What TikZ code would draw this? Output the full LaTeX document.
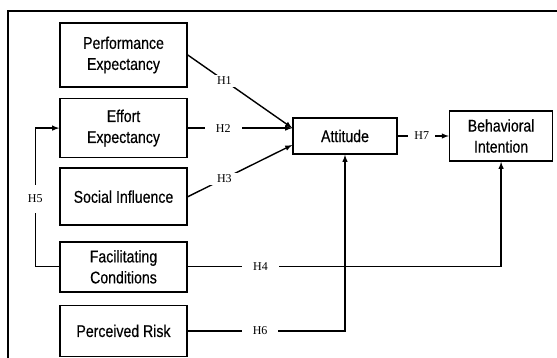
\documentclass[tikz,border=0pt]{standalone}
\usepackage{fontspec}
\setmainfont{Liberation Serif}
\setsansfont[FakeStretch=0.83, FakeBold=0.4]{Liberation Sans}
\usetikzlibrary{positioning,arrows}
\tikzset{
 box/.style
  = {rectangle, draw, line width=1.6pt, align=center, inner sep=2pt,
     minimum width=127pt, font=\sffamily\fontsize{17}{21}\selectfont},
 lab/.style
  = {fill=white, inner xsep=11pt, inner ysep=2pt,
     font=\rmfamily\fontsize{12}{14}\selectfont},
 labv/.style
  = {lab, inner xsep=1pt, inner ysep=10pt},
 l/.style
  = {draw, -latex, line width=1.4pt}
}
\begin{document}
\begin{tikzpicture}[x=1pt, y=-1pt]
    \useasboundingbox (0,0) rectangle (557,358);
    \draw [line width=1.2pt] (8,11) rectangle (620,420);

    \node [box, minimum height=64pt] (pe) at (123.5,55) {Performance\\ Expectancy};
    \node [box, minimum height=59pt, below = 10pt of pe] (ee) {Effort\\ Expectancy};
    \node [box, minimum height=57pt, below = 9pt of ee] (si) {Social Influence};
    \node [box, minimum height=50pt, below = 15pt of si] (fc) {Facilitating\\ Conditions};
    \node [box, minimum height=51pt, below = 12pt of fc] (pr) {Perceived Risk};
    \node [box, minimum width=104pt, minimum height=36pt] (att) at (345,136) {Attitude};
    \node [box, minimum width=103pt, minimum height=50pt, right = 51pt of att] (bi) {Behavioral\\ Intention};

    \path [l] (pe.east) -- ([yshift=8pt]att.west) node[lab, pos=0.35]{H1};
    \path [l] (ee.east) -- (ee.east -| att.west) node[lab, pos=0.34]{H2};
    \path [l] (si.east) -- ([yshift=-9pt]att.west) node[lab, pos=0.35]{H3};
    \path [l] (fc.east) -| (bi.south) node[lab, pos=0.116]{H4};
    \path [l] (pr.east) -| (att.south) node[lab, pos=0.23]{H6};
    \path [l] (att.east) -- (bi.west) node[lab, inner xsep=6pt, pos=0.47]{H7};
    \path [l] (fc.west) -- ++(-24,0) |- (ee.west) node[labv, pos=0.245]{H5};

\end{tikzpicture}
\end{document}
